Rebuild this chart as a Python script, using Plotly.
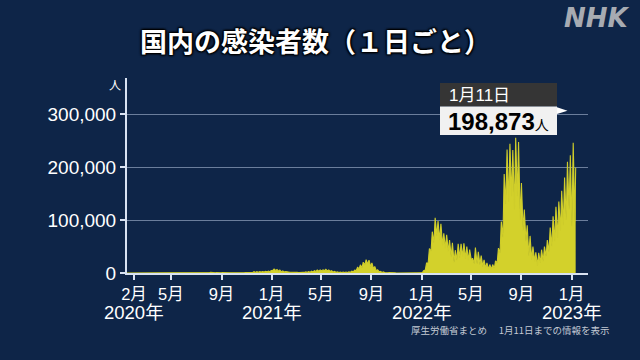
import plotly.graph_objects as go
import pandas as pd

# ---------------- data ----------------
week_start = "2020-01-13"  # first Monday of the series

# weekly low (Monday) values
monday_lows = [
    0, 0, 1, 0, 1, 3, 7, 13, 15, 16, 40, 90, 250, 350, 300, 170, 90, 40, 30, 20,
    30, 20, 40, 40, 100, 140, 270, 400, 600, 800, 800, 600, 450, 420, 300, 270, 300, 320, 300, 250,
    320, 460, 620, 920, 950, 1200, 1430, 1800, 1700, 2150, 2400,
    4900, 4900, 3300, 2000, 1800, 1500, 1300, 700, 800, 900, 900, 1100, 1500, 1600, 2100, 2900, 3300,
    4000, 4600, 3700, 2900, 1800, 1500, 1000, 1000, 900, 1000, 1500, 2300, 4700, 8000, 9900, 15000,
    16600, 12000, 8000, 3900, 2000, 1100, 600, 400, 230, 150, 90, 100, 80, 70, 80, 80, 120, 170, 250,
    780, 5700, 19000, 41000, 57000, 70000, 62000, 52000, 47000, 41000, 30000, 20000, 24000, 29000,
    31000, 27000, 24000, 24000, 18000, 17000, 16000, 12000, 9000, 7000, 7000, 9000, 19000, 38000,
    67000, 130000, 134000, 145000, 120000, 145000, 100000, 80000, 60000, 32000, 25000, 22000, 14000,
    19000, 22000, 31000, 40000, 50000, 60000, 66000, 80000, 90000, 100000, 120000, 88000, 97000,
]

# weekly peak (Thursday) values
thursday_peaks = [
    1, 2, 3, 2, 6, 12, 20, 30, 50, 40, 90, 230, 500, 580, 440, 260, 120, 50, 30, 40,
    40, 40, 60, 90, 190, 350, 620, 790, 1260, 1480, 1170, 1030, 850, 630, 600, 550, 480, 630, 600, 690,
    700, 780, 1050, 1650, 2390, 2530, 2500, 2800, 3000, 3700, 4500,
    7500, 6600, 5700, 3900, 2600, 1800, 1500, 1100, 1200, 1300, 1500, 2000, 2600, 3400, 4500, 5500, 5900,
    6000, 7000, 5700, 4400, 3000, 2000, 1700, 1800, 1900, 2200, 3400, 5400, 10700, 15300, 20300, 25100,
    24400, 19200, 12400, 6100, 3200, 2000, 1100, 700, 420, 280, 190, 200, 170, 140, 130, 170, 180, 250, 500,
    4500, 18800, 46000, 78000, 104000, 98000, 93000, 75000, 72000, 62000, 57000, 43000, 55000, 55000,
    56000, 50000, 44000, 28000, 48000, 40000, 33000, 25000, 19000, 16000, 16000, 23000, 47000, 97000,
    187000, 233000, 244000, 232000, 255000, 247000, 170000, 120000, 90000, 70000, 50000, 39000, 38000,
    44000, 50000, 62000, 86000, 107000, 125000, 135000, 155000, 180000, 210000, 222000, 246000,
]

last_date = "2023-01-11"
last_value = 198873

month_ticks = ["2020-02-01", "2020-05-01", "2020-09-01", "2021-01-01", "2021-05-01",
               "2021-09-01", "2022-01-01", "2022-05-01", "2022-09-01", "2023-01-01"]
month_labels = ["2月", "5月", "9月", "1月", "5月", "9月", "1月", "5月", "9月", "1月"]
year_ticks = ["2020-02-01", "2021-01-01", "2022-01-01", "2023-01-01"]
year_labels = ["2020年", "2021年", "2022年", "2023年"]
y_ticks = [0, 100000, 200000, 300000]

title_text = "国内の感染者数（１日ごと）"
source_text = "厚生労働省まとめ　 1月11日までの情報を表示"
callout_date = "1月11日"

# ---------------- assemble series ----------------
mondays = pd.date_range(week_start, periods=len(monday_lows), freq="7D")
dates, cases = [], []
for i, d in enumerate(mondays):
    dates.append(d)
    cases.append(monday_lows[i])
    if i < len(thursday_peaks):
        dates.append(d + pd.Timedelta(days=3))
        cases.append(thursday_peaks[i])
dates.append(pd.Timestamp(last_date))
cases.append(last_value)

# ---------------- layout helpers ----------------
W, H = 640, 360
ML, MR, MT, MB = 127, 52, 78, 87
L, R, T, B = ML, W - MR, MT, H - MB


def px(x):
    return (x - L) / (R - L)


def py(y):
    return (B - y) / (B - T)


BG = "#0e2548"
AXIS = "#d8e2f2"
GRID = "#6b7e9c"
FILL = "#d3d12b"
NUM_FONT = "Liberation Sans, Noto Sans CJK JP, sans-serif"
JP_FONT = "Noto Sans CJK JP, sans-serif"

fig = go.Figure()
fig.add_trace(go.Scatter(
    x=dates, y=cases, mode="lines", fill="tozeroy",
    line=dict(color="#cfcd2a", width=1.1), fillcolor=FILL,
    hoverinfo="skip", showlegend=False,
))

fig.update_layout(
    width=W, height=H,
    margin=dict(l=ML, r=MR, t=MT, b=MB, pad=0),
    paper_bgcolor=BG, plot_bgcolor=BG,
    showlegend=False,
    xaxis=dict(
        type="date", range=["2020-01-15", "2023-02-10"],
        tickmode="array", tickvals=month_ticks, ticktext=month_labels,
        showgrid=False, zeroline=False,
        showline=True, linecolor=AXIS, linewidth=2,
        ticks="outside", ticklen=5, tickwidth=2, tickcolor=AXIS,
        tickfont=dict(family=NUM_FONT, size=16.5, color="white"),
        fixedrange=True,
    ),
    yaxis=dict(
        range=[0, 368000],
        tickmode="array", tickvals=y_ticks, tickformat=",d",
        showgrid=True, gridcolor=GRID, gridwidth=1, zeroline=False,
        showline=True, linecolor=AXIS, linewidth=2,
        ticks="outside", ticklen=5, tickwidth=2, tickcolor=AXIS,
        tickfont=dict(family=NUM_FONT, size=19, color="white"),
        fixedrange=True,
    ),
)

annotations = []
# title
annotations.append(dict(
    text=title_text, xref="paper", yref="paper", x=px(315), y=py(40),
    xanchor="center", yanchor="middle", showarrow=False,
    font=dict(family=JP_FONT, size=27, color="white", weight=700,
              shadow="1px 1px 2px #000, -1px -1px 2px #000, 1px -1px 2px #000, -1px 1px 2px #000"),
))
# NHK logo
annotations.append(dict(
    text="<b><i>NHK</i></b>", xref="paper", yref="paper", x=px(597), y=py(18),
    xanchor="center", yanchor="middle", showarrow=False,
    font=dict(family="DejaVu Sans, sans-serif", size=26, color="#a7abb2"),
))
# unit
annotations.append(dict(
    text="人", xref="paper", yref="paper", x=px(115), y=py(84),
    xanchor="center", yanchor="middle", showarrow=False,
    font=dict(family=JP_FONT, size=12, color="white"),
))
# years
for yt, yl in zip(year_ticks, year_labels):
    annotations.append(dict(
        text=yl, xref="x", yref="paper", x=yt, y=py(312),
        xanchor="center", yanchor="middle", showarrow=False,
        font=dict(family=NUM_FONT, size=18.5, color="white"),
    ))
# source
annotations.append(dict(
    text=source_text, xref="paper", yref="paper", x=px(510), y=py(330),
    xanchor="center", yanchor="middle", showarrow=False,
    font=dict(family=JP_FONT, size=9.5, color="#c3c9d3"),
))
# callout texts
annotations.append(dict(
    text=callout_date, xref="paper", yref="paper", x=px(447), y=py(95),
    xanchor="left", yanchor="middle", showarrow=False,
    font=dict(family=NUM_FONT, size=17, color="white"),
))
annotations.append(dict(
    text=f"<b>{last_value:,}</b><span style='font-size:14px'>人</span>",
    xref="paper", yref="paper", x=px(446), y=py(121),
    xanchor="left", yanchor="middle", showarrow=False,
    font=dict(family=NUM_FONT, size=24, color="black"),
))
fig.update_layout(annotations=annotations)

shapes = [
    dict(type="rect", xref="paper", yref="paper", x0=px(440), x1=px(557), y0=py(106.5), y1=py(83),
         fillcolor="#353535", line=dict(width=0), layer="above"),
    dict(type="rect", xref="paper", yref="paper", x0=px(440), x1=px(557), y0=py(135), y1=py(106.5),
         fillcolor="#f1f1f1", line=dict(width=0), layer="above"),
    dict(type="path", xref="paper", yref="paper",
         path=f"M {px(557)} {py(107.3)} L {px(567.5)} {py(110.7)} L {px(557)} {py(114)} Z",
         fillcolor="white", line=dict(width=0), layer="above"),
]
fig.update_layout(shapes=shapes)

page_fix = ("document.body.style.margin='0';document.body.style.padding='0';"
            "document.body.style.background='" + BG + "';"
            "document.body.style.overflow='hidden';")
fig.write_html("out.html", post_script=page_fix,
               config={"displayModeBar": False, "staticPlot": True})
